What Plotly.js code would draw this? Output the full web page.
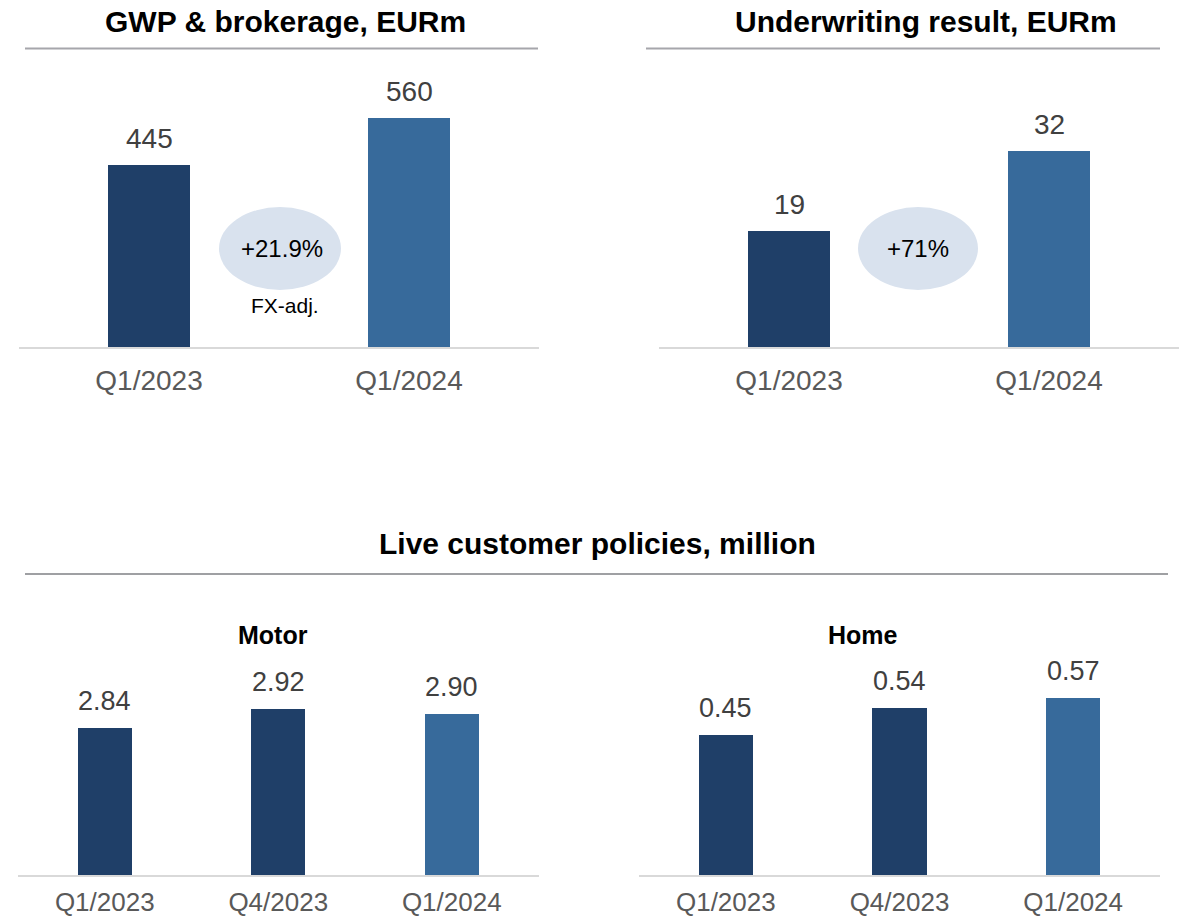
<!DOCTYPE html>
<html>
<head>
<meta charset="utf-8">
<script src="https://cdn.plot.ly/plotly-3.0.1.min.js"></script>
<style>html,body{margin:0;padding:0;background:#fff;}#chart{width:1181px;height:918px;}</style>
</head>
<body>
<div id="chart"></div>
<script>
// ---- data ----
const gwpCategories = ["Q1/2023", "Q1/2024"];
const gwpValues = [445, 560];
const gwpLabels = ["445", "560"];

const uwCategories = ["Q1/2023", "Q1/2024"];
const uwValues = [19, 32];
const uwLabels = ["19", "32"];

const policyCategories = ["Q1/2023", "Q4/2023", "Q1/2024"];
const motorValues = [2.84, 2.92, 2.90];
const motorLabels = ["2.84", "2.92", "2.90"];
const homeValues = [0.45, 0.54, 0.57];
const homeLabels = ["0.45", "0.54", "0.57"];

const gwpGrowth = "+21.9%";
const gwpGrowthNote = "FX-adj.";
const uwGrowth = "+71%";

const titles = {
  gwp: "GWP & brokerage, EURm",
  uw: "Underwriting result, EURm",
  policies: "Live customer policies, million",
  motor: "Motor",
  home: "Home"
};

// ---- styling ----
const W = 1181, H = 918;
const px = x => x / W;
const py = y => 1 - y / H;
const DARK = "#1F3F68";
const LIGHT = "#376A9B";
const FONT = "Liberation Sans, Arial, sans-serif";

function barColors(n) {
  const c = [];
  for (let i = 0; i < n; i++) c.push(i === n - 1 ? LIGHT : DARK);
  return c;
}

function barTrace(cats, vals, xa, ya, width) {
  return {
    type: "bar", x: cats, y: vals, xaxis: xa, yaxis: ya,
    marker: {color: barColors(vals.length), line: {width: 0}},
    width: width, hoverinfo: "skip", showlegend: false
  };
}

const data = [
  barTrace(gwpCategories, gwpValues, "x", "y", 0.315),
  barTrace(uwCategories, uwValues, "x2", "y2", 0.315),
  barTrace(policyCategories, motorValues, "x3", "y3", 0.311),
  barTrace(policyCategories, homeValues, "x4", "y4", 0.311)
];

function xAxis(d0, d1, anchor, size, standoff) {
  return {
    domain: [px(d0), px(d1)], anchor: anchor, type: "category",
    showgrid: false, zeroline: false,
    showline: true, linecolor: "#D9D9D9", linewidth: 2,
    ticks: "", ticklabelstandoff: standoff,
    tickfont: {family: FONT, size: size, color: "#595959"},
    fixedrange: true
  };
}
function yAxis(top, bottom, r0, r1, anchor) {
  return {
    domain: [py(bottom), py(top)], anchor: anchor, range: [r0, r1],
    visible: false, showgrid: false, zeroline: false, fixedrange: true
  };
}

const layout = {
  width: W, height: H,
  margin: {l: 0, r: 0, t: 0, b: 0},
  paper_bgcolor: "#fff", plot_bgcolor: "rgba(0,0,0,0)",
  showlegend: false,
  bargap: 0,
  xaxis: Object.assign(xAxis(19, 539, "y", 28, 7), {range: [-0.5, 1.5]}),
  yaxis: yAxis(50, 347, 0, 726, "x"),
  xaxis2: Object.assign(xAxis(659, 1179, "y2", 28, 7), {range: [-0.5, 1.5]}),
  yaxis2: yAxis(50, 347, 0, 48.5, "x2"),
  xaxis3: Object.assign(xAxis(18, 538.5, "y3", 26, 3), {range: [-0.5, 2.5]}),
  yaxis3: yAxis(600, 875, 2.22, 3.378, "x3"),
  xaxis4: Object.assign(xAxis(639, 1160, "y4", 26, 3), {range: [-0.5, 2.5]}),
  yaxis4: yAxis(600, 875, 0, 0.887, "x4"),
  shapes: [
    {type: "line", xref: "paper", yref: "paper", x0: px(25), x1: px(538), y0: py(48.5), y1: py(48.5), line: {color: "#A6A6AB", width: 2}},
    {type: "line", xref: "paper", yref: "paper", x0: px(646), x1: px(1160), y0: py(48.5), y1: py(48.5), line: {color: "#A6A6AB", width: 2}},
    {type: "line", xref: "paper", yref: "paper", x0: px(25), x1: px(1168), y0: py(574), y1: py(574), line: {color: "#7F8084", width: 1.5}},
    {type: "circle", xref: "paper", yref: "paper", x0: px(219), x1: px(341), y0: py(290), y1: py(207), fillcolor: "#D9E2EE", line: {width: 0}, layer: "below"},
    {type: "circle", xref: "paper", yref: "paper", x0: px(858), x1: px(978), y0: py(290), y1: py(207), fillcolor: "#D9E2EE", line: {width: 0}, layer: "below"}
  ],
  annotations: []
};

function valueLabels(cats, vals, labels, xa, ya, size, shift) {
  return cats.map((c, i) => ({
    x: c, y: vals[i], xref: xa, yref: ya, text: labels[i],
    showarrow: false, yanchor: "bottom", xanchor: "center", yshift: shift,
    font: {family: FONT, size: size, color: "#404040"}
  }));
}

layout.annotations.push(...valueLabels(gwpCategories, gwpValues, gwpLabels, "x", "y", 28, 9));
layout.annotations.push(...valueLabels(uwCategories, uwValues, uwLabels, "x2", "y2", 28, 9));
layout.annotations.push(...valueLabels(policyCategories, motorValues, motorLabels, "x3", "y3", 27, 10));
layout.annotations.push(...valueLabels(policyCategories, homeValues, homeLabels, "x4", "y4", 27, 10));

function textAnn(text, x, y, size, bold, color) {
  return {
    xref: "paper", yref: "paper", x: px(x), y: py(y), text: bold ? "<b>" + text + "</b>" : text,
    showarrow: false, xanchor: "center", yanchor: "middle",
    font: {family: FONT, size: size, color: color || "#000"}
  };
}

layout.annotations.push(
  textAnn(titles.gwp, 285, 22, 30, true),
  textAnn(titles.uw, 926, 22, 30, true),
  textAnn(titles.policies, 597, 543, 30, true),
  textAnn(titles.motor, 273, 635, 25, true),
  textAnn(titles.home, 863, 635, 25, true),
  textAnn(gwpGrowth, 282, 249, 24, false),
  textAnn(gwpGrowthNote, 285, 305, 21, false),
  textAnn(uwGrowth, 918, 249, 24, false)
);

Plotly.newPlot("chart", data, layout, {displayModeBar: false, staticPlot: true});
</script>
</body>
</html>
